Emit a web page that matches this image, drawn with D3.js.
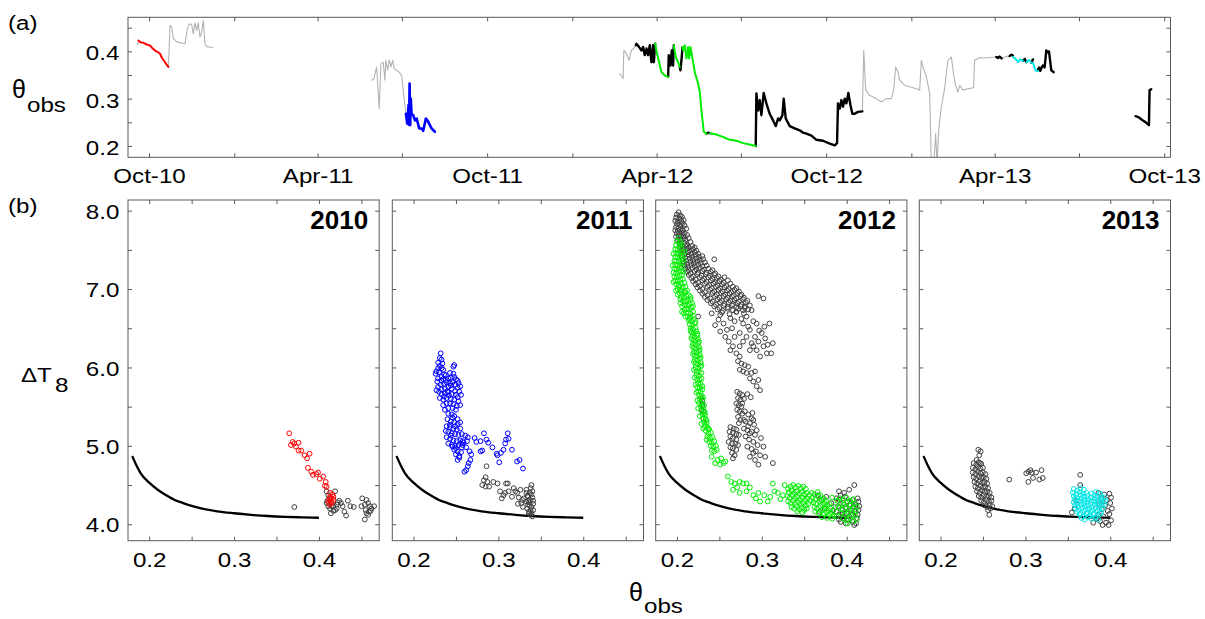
<!DOCTYPE html>
<html>
<head>
<meta charset="utf-8">
<script src="https://cdn.jsdelivr.net/npm/d3@7"></script>
<style>
  body { margin: 0; background: #fff; }
  text { font-family: "Liberation Sans", Arial, Helvetica, sans-serif; fill: #000; }
</style>
</head>
<body>
<svg id="fig" width="1205" height="619"></svg>
<script>
// ---------------------------------------------------------------
// (a) soil moisture record: [day since 1 Oct 2010, theta_obs]
// ---------------------------------------------------------------
const START = new Date(2010, 9, 1);
const timeDomain = [new Date(2010, 8, 8, 7), new Date(2013, 9, 7, 19)];

const gray2010a = [[-12.6,0.414],[-11.5,0.421]];
const red2010 = [[-11.5,0.423],[-9,0.419],[-6,0.418],[-3,0.415],[1.1,0.412],[4,0.406],[7,0.401],[10,0.398],[11.9,0.395],[14,0.386],[17.3,0.377],[19,0.372],[20.9,0.367]];
const gray2010b = [[20.9,0.367],[22.7,0.455],[24.5,0.451],[26.3,0.427],[29.9,0.420],[34,0.418],[38.8,0.416],[41.4,0.448],[43.5,0.458],[46,0.457],[47.8,0.437],[49.6,0.460],[51.4,0.444],[53.2,0.460],[55,0.430],[56.8,0.441],[58.6,0.465],[60.4,0.416],[62.2,0.410],[68.7,0.408]];

const gray2011 = [[240.3,0.339],[242.8,0.342],[245.7,0.367],[248.5,0.279],[250.3,0.374],[252.8,0.377],[254.7,0.339],[255.7,0.381],[257.6,0.360],[259.3,0.382],[261.2,0.367],[263,0.381],[264.7,0.363],[267.3,0.360],[270.1,0.356],[272.7,0.349],[275.2,0.303],[277.3,0.268]];
const blue2011 = [[277.3,0.268],[278.8,0.247],[279.6,0.270],[280.2,0.287],[280.8,0.245],[281.3,0.332],[282,0.244],[282.6,0.300],[283.4,0.268],[285.2,0.265],[287.1,0.254],[288.9,0.258],[291.7,0.237],[294.3,0.237],[296,0.232],[298.9,0.258],[301.4,0.251],[305,0.237],[308.6,0.230]];

const gray2012a = [[508.3,0.353],[511.8,0.342],[512.6,0.402],[515.4,0.395],[518.3,0.381],[520.8,0.402],[523.4,0.406],[525.5,0.413]];
const black2012a = [[525.5,0.413],[526.2,0.416],[529.1,0.409],[531.6,0.402],[533.4,0.409],[535.2,0.392],[537.1,0.406],[538.8,0.392],[540.6,0.413],[542.4,0.377],[544.2,0.413],[545,0.377],[546.4,0.416]];
const green2012a = [[546.4,0.416],[548.5,0.395],[550.7,0.377],[553.2,0.356],[556.8,0.349],[560.4,0.346]];
const black2012b = [[560.4,0.346],[561.1,0.392],[562.9,0.370],[564.4,0.402],[565.8,0.370],[566.5,0.413]];
const green2012b = [[566.5,0.413],[568.7,0.388],[571.2,0.377],[573,0.367]];
const black2012c = [[573,0.367],[573.7,0.360],[575.2,0.390],[575.9,0.409]];
const green2012c = [[575.9,0.409],[576.6,0.402],[578.4,0.413],[580.2,0.385],[582,0.409],[583.1,0.385],[584.5,0.409],[586.7,0.385],[589.2,0.356],[592.8,0.332],[594.6,0.314],[596.4,0.275],[598.9,0.230],[601.8,0.226]];
const black2012d = [[601.8,0.226],[603.6,0.228],[605.4,0.227]];
const green2012d = [[605.4,0.227],[612.6,0.224],[619.8,0.219],[627,0.213],[634.2,0.211],[641.3,0.206],[648.5,0.203],[655,0.200]];
const black2012e = [[655,0.200],[655.7,0.311],[657.5,0.275],[659.3,0.297],[661.1,0.265],[663.6,0.312],[666.5,0.290],[670.1,0.268],[673.7,0.254],[676.6,0.242],[679.1,0.258],[680.9,0.254],[683.8,0.265],[685.2,0.300],[687.4,0.258],[691.7,0.242],[697.1,0.237],[702.5,0.233],[706.1,0.228],[709.7,0.226],[715.1,0.222],[720.5,0.213],[727.6,0.211],[734.9,0.205],[740.3,0.201],[742.8,0.206],[743.8,0.290],[745.7,0.279],[747.5,0.297],[749.2,0.283],[751.1,0.300],[752.9,0.290],[755,0.312],[757.2,0.287],[759.3,0.268],[761.8,0.268],[765.4,0.272],[770.1,0.273]];
const gray2012b = [[770.1,0.273],[771.6,0.402],[773.7,0.318],[778,0.307],[785.2,0.300],[790.6,0.293],[796,0.300],[801.4,0.300],[803.9,0.318],[806.1,0.367],[808.6,0.356],[810.4,0.339],[815.8,0.328],[821.2,0.325],[828.4,0.321],[832,0.318],[833.8,0.381],[835.6,0.367],[839.2,0.346],[842.8,0.311],[844.6,0.160],[847.1,0.160],[849.3,0.226],[850.7,0.160],[852.8,0.240],[855.4,0.282],[858.9,0.321],[862.5,0.381],[866.2,0.388],[868.7,0.349],[870.8,0.328],[873.3,0.314],[875.2,0.328],[878.7,0.318],[884.1,0.321],[890.2,0.323],[891.3,0.381],[896.7,0.387],[902.1,0.386],[907.5,0.387],[914.7,0.388]];

const black2013a = [[914.7,0.388],[916.5,0.386],[918.3,0.389],[920.5,0.385]];
const gray2013 = [[920.5,0.385],[925,0.389],[929.1,0.390]];
const black2013b = [[929.1,0.390],[931,0.393],[932.7,0.391]];
const cyan2013a = [[932.7,0.388],[935,0.385],[938.1,0.377],[940.5,0.383],[943.5,0.380]];
const black2013c = [[943.5,0.380],[945.5,0.384],[947.1,0.377]];
const cyan2013b = [[947.1,0.377],[949.8,0.382],[952.5,0.376]];
const black2013d = [[952.5,0.376],[954.3,0.383]];
const cyan2013c = [[954.3,0.375],[956,0.366],[957.1,0.360],[959.7,0.358]];
const black2013e = [[959.7,0.362],[961,0.366],[962.2,0.359],[964,0.367],[965.1,0.370],[966.9,0.366],[968.7,0.402],[970.2,0.398],[971.6,0.400],[974.1,0.360],[976.6,0.356]];
const black2013f = [[1065.1,0.263],[1068,0.261],[1073,0.254],[1076,0.250],[1079.5,0.244],[1080.2,0.318],[1082,0.320]];

// ---------------------------------------------------------------
// (b) Delta T8 against theta_obs: [theta_obs, Delta T8]
// ---------------------------------------------------------------
const refCurve = [[0.18,4.87],[0.185,4.75],[0.19,4.65],[0.20,4.53],[0.21,4.44],[0.22,4.37],[0.23,4.31],[0.24,4.27],[0.25,4.235],[0.26,4.205],[0.28,4.165],[0.30,4.14],[0.32,4.12],[0.34,4.105],[0.36,4.095],[0.38,4.088],[0.40,4.083]];

const pts2010Other = [[0.371,4.22],[0.409,4.42],[0.411,4.37],[0.419,4.42],[0.415,4.23],[0.413,4.20],[0.411,4.23],[0.417,4.23],[0.421,4.25],[0.422,4.28],[0.424,4.30],[0.419,4.18],[0.414,4.14],[0.417,4.17],[0.428,4.23],[0.430,4.16],[0.432,4.11],[0.434,4.30],[0.437,4.23],[0.421,4.20],[0.413,4.33],[0.409,4.27],[0.451,4.33],[0.454,4.25],[0.456,4.31],[0.458,4.27],[0.460,4.23],[0.462,4.20],[0.459,4.16],[0.456,4.14],[0.454,4.06],[0.458,4.12],[0.450,4.23],[0.465,4.23],[0.455,4.18],[0.461,4.17],[0.410,4.30],[0.426,4.27],[0.441,4.22]];
const pts2010 = [[0.365,5.16],[0.367,5.01],[0.369,5.05],[0.371,5.03],[0.373,4.99],[0.376,5.04],[0.376,4.94],[0.379,4.94],[0.383,4.88],[0.386,4.84],[0.389,4.90],[0.387,4.72],[0.391,4.67],[0.393,4.63],[0.397,4.64],[0.399,4.66],[0.401,4.58],[0.405,4.61],[0.408,4.54],[0.407,4.49],[0.409,4.48],[0.413,4.35],[0.414,4.29],[0.415,4.33],[0.417,4.31],[0.415,4.27],[0.413,4.40],[0.412,4.31],[0.417,4.35],[0.413,4.25],[0.411,4.28],[0.416,4.38]];

const pts2011Other = [[0.286,4.74],[0.285,4.60],[0.283,4.56],[0.281,4.50],[0.287,4.54],[0.285,4.48],[0.289,4.48],[0.294,4.54],[0.299,4.52],[0.309,4.52],[0.311,4.52],[0.302,4.42],[0.306,4.37],[0.304,4.33],[0.308,4.40],[0.312,4.42],[0.318,4.46],[0.320,4.42],[0.322,4.40],[0.316,4.35],[0.324,4.34],[0.326,4.44],[0.328,4.31],[0.330,4.33],[0.333,4.29],[0.333,4.44],[0.335,4.36],[0.337,4.31],[0.339,4.50],[0.340,4.42],[0.339,4.22],[0.338,4.18],[0.336,4.14],[0.339,4.14],[0.341,4.26],[0.335,4.25],[0.337,4.40],[0.334,4.20],[0.340,4.34],[0.341,4.18],[0.336,4.16],[0.329,4.22],[0.338,4.46],[0.335,4.30],[0.339,4.38],[0.337,4.24],[0.340,4.10],[0.336,4.28],[0.334,4.36],[0.341,4.30],[0.338,4.12],[0.333,4.40],[0.327,4.27],[0.323,4.26]];
const pts2011 = [
  [0.232,6.18],[0.231,6.12],[0.233,6.10],[0.229,6.06],[0.234,6.05],[0.231,6.02],[0.229,5.99],[0.233,5.99],[0.235,5.97],[0.227,5.95],[0.230,5.94],[0.236,5.91],[0.233,5.88],[0.229,5.86],[0.235,5.85],[0.238,5.84],[0.241,5.86],[0.244,5.87],[0.248,5.88],[0.250,5.85],[0.253,5.80],[0.255,5.76],[0.252,5.74],[0.249,5.78],[0.246,5.81],[0.243,5.80],[0.239,5.81],[0.236,5.79],[0.232,5.78],[0.229,5.75],[0.233,5.72],[0.237,5.73],[0.241,5.75],[0.245,5.73],[0.249,5.70],[0.254,5.69],[0.256,5.65],[0.252,5.62],[0.250,5.65],[0.245,5.66],[0.241,5.68],[0.237,5.67],[0.233,5.66],[0.230,5.69],[0.231,5.61],[0.235,5.59],[0.239,5.61],[0.244,5.60],[0.248,5.59],[0.253,5.57],[0.255,5.52],[0.251,5.51],[0.247,5.53],[0.243,5.54],[0.239,5.54],[0.235,5.52],[0.237,5.46],[0.241,5.48],[0.246,5.48],[0.250,5.46],[0.248,6.03],[0.247,6.01],[0.226,5.92],[0.228,5.82],[0.243,5.93],[0.247,5.92],[0.240,5.70],[0.236,5.63],[0.242,5.64],[0.233,5.83],[0.238,5.90],[0.252,5.83],[0.244,5.77],[0.227,5.71],
  [0.241,5.41],[0.245,5.40],[0.248,5.38],[0.252,5.34],[0.240,5.34],[0.244,5.31],[0.248,5.30],[0.252,5.28],[0.255,5.30],[0.239,5.25],[0.243,5.24],[0.247,5.22],[0.251,5.21],[0.255,5.22],[0.241,5.18],[0.245,5.16],[0.249,5.15],[0.253,5.14],[0.257,5.15],[0.261,5.13],[0.264,5.11],[0.239,5.11],[0.243,5.09],[0.247,5.07],[0.251,5.06],[0.255,5.07],[0.259,5.04],[0.241,5.03],[0.245,5.01],[0.249,5.00],[0.253,5.01],[0.257,4.98],[0.248,4.95],[0.252,4.93],[0.256,4.92],[0.250,4.89],[0.254,4.87],[0.252,4.82],[0.266,4.93],[0.268,4.89],[0.267,4.82],[0.265,4.78],[0.264,4.74],[0.262,4.69],[0.260,4.67],[0.250,4.97],[0.258,5.01],[0.262,4.98],[0.243,5.27],[0.246,5.36],[0.254,4.85],[0.244,5.13],[0.249,5.25],[0.238,5.19],[0.246,4.99],
  [0.272,5.10],[0.274,5.05],[0.279,5.06],[0.283,5.16],[0.286,5.08],[0.288,5.04],[0.293,4.98],[0.299,4.88],[0.301,4.79],[0.303,4.91],[0.306,4.95],[0.309,5.08],[0.311,5.16],[0.312,5.09],[0.316,4.95],[0.322,4.80],[0.325,4.82],[0.329,4.71],[0.279,4.93],[0.281,4.94],[0.308,5.03],[0.298,4.90],[0.263,5.06],[0.258,5.06],[0.256,5.03]
];

const pts2012Other = [
  [0.202,7.98],[0.200,7.95],[0.204,7.94],[0.199,7.91],[0.203,7.90],[0.206,7.92],[0.198,7.87],[0.201,7.86],[0.205,7.87],[0.208,7.88],[0.200,7.83],[0.203,7.82],[0.207,7.84],[0.199,7.79],[0.202,7.78],[0.205,7.80],[0.209,7.81],[0.198,7.75],[0.201,7.74],[0.204,7.76],[0.207,7.75],[0.211,7.77],[0.200,7.71],[0.203,7.70],[0.206,7.72],[0.209,7.71],[0.199,7.67],[0.202,7.66],[0.205,7.68],[0.208,7.67],[0.212,7.69],[0.201,7.63],[0.204,7.62],[0.207,7.64],[0.210,7.63],[0.214,7.65],
  [0.203,7.58],[0.206,7.56],[0.209,7.59],[0.212,7.57],[0.216,7.60],[0.204,7.54],[0.207,7.52],[0.211,7.55],[0.214,7.53],[0.218,7.55],[0.221,7.53],[0.205,7.50],[0.208,7.48],[0.212,7.51],[0.215,7.49],[0.219,7.51],[0.223,7.49],[0.205,7.46],[0.209,7.44],[0.213,7.47],[0.217,7.45],[0.221,7.47],[0.225,7.45],[0.206,7.42],[0.210,7.40],[0.214,7.43],[0.218,7.41],[0.222,7.43],[0.226,7.41],[0.230,7.42],[0.207,7.38],[0.211,7.36],[0.215,7.39],[0.219,7.37],[0.223,7.39],[0.227,7.37],[0.231,7.38],[0.244,7.38],
  [0.208,7.34],[0.212,7.32],[0.216,7.35],[0.220,7.33],[0.224,7.35],[0.228,7.33],[0.233,7.34],[0.209,7.30],[0.213,7.28],[0.217,7.31],[0.221,7.29],[0.225,7.31],[0.230,7.29],[0.235,7.30],[0.210,7.26],[0.214,7.24],[0.218,7.27],[0.223,7.25],[0.227,7.27],[0.232,7.25],[0.237,7.26],[0.242,7.24],[0.212,7.22],[0.216,7.20],[0.221,7.23],[0.225,7.21],[0.230,7.23],[0.235,7.21],[0.240,7.22],[0.245,7.20],[0.214,7.18],[0.219,7.16],[0.224,7.19],[0.229,7.17],[0.234,7.19],[0.239,7.17],[0.244,7.18],[0.249,7.16],
  [0.217,7.14],[0.222,7.12],[0.227,7.15],[0.232,7.13],[0.237,7.15],[0.242,7.13],[0.247,7.14],[0.252,7.12],[0.256,7.15],[0.219,7.10],[0.225,7.08],[0.230,7.11],[0.235,7.09],[0.240,7.11],[0.245,7.09],[0.250,7.10],[0.255,7.08],[0.260,7.11],[0.222,7.06],[0.227,7.04],[0.233,7.07],[0.238,7.05],[0.243,7.07],[0.248,7.05],[0.253,7.06],[0.258,7.04],[0.263,7.07],
  [0.224,7.02],[0.230,7.00],[0.236,7.03],[0.241,7.01],[0.246,7.03],[0.251,7.01],[0.256,7.02],[0.261,7.00],[0.266,7.03],[0.270,7.01],[0.227,6.98],[0.233,6.96],[0.239,6.99],[0.244,6.97],[0.249,6.99],[0.254,6.97],[0.259,6.98],[0.264,6.96],[0.268,6.99],[0.273,6.97],[0.230,6.94],[0.236,6.92],[0.242,6.95],[0.247,6.93],[0.252,6.95],[0.257,6.93],[0.262,6.94],[0.267,6.92],[0.271,6.95],[0.276,6.93],
  [0.233,6.90],[0.239,6.88],[0.245,6.91],[0.250,6.89],[0.255,6.91],[0.260,6.89],[0.265,6.90],[0.270,6.88],[0.275,6.91],[0.279,6.89],[0.236,6.86],[0.242,6.84],[0.248,6.87],[0.253,6.85],[0.258,6.87],[0.263,6.85],[0.268,6.86],[0.273,6.84],[0.278,6.87],[0.283,6.85],[0.240,6.82],[0.246,6.80],[0.251,6.83],[0.256,6.81],[0.261,6.83],[0.266,6.81],[0.271,6.82],[0.276,6.80],[0.281,6.83],
  [0.244,6.78],[0.250,6.76],[0.255,6.79],[0.260,6.77],[0.265,6.79],[0.270,6.77],[0.275,6.78],[0.280,6.76],[0.286,6.79],[0.248,6.74],[0.254,6.72],[0.260,6.75],[0.266,6.73],[0.272,6.75],[0.278,6.73],[0.284,6.74],[0.253,6.70],[0.262,6.68],[0.270,6.71],[0.279,6.69],[0.296,6.91],[0.302,6.88],[0.225,6.65],
  [0.241,6.69],[0.249,6.61],[0.255,6.56],[0.263,6.63],[0.268,6.59],[0.251,6.46],[0.257,6.39],[0.261,6.33],[0.266,6.27],[0.263,6.22],[0.270,6.18],[0.274,6.27],[0.278,6.56],[0.282,6.65],[0.286,6.48],[0.288,6.73],[0.292,6.39],[0.294,6.56],[0.296,6.33],[0.302,6.27],[0.307,6.29],[0.309,6.56],[0.311,6.18],[0.298,6.14],[0.286,6.22],[0.274,6.14],[0.282,6.39],[0.290,6.27],[0.300,6.44],[0.304,6.37],[0.274,6.44],[0.268,6.39],[0.259,6.48],[0.278,6.33],[0.306,6.18],[0.294,6.22],[0.245,6.54],[0.251,6.67],[0.270,6.71],[0.280,6.78],[0.290,6.59],[0.284,6.52],[0.297,6.47],[0.303,6.52],[0.313,6.31],[0.288,6.31],[0.276,6.62],[0.265,6.50],
  [0.272,6.08],[0.276,6.05],[0.280,6.03],[0.284,6.01],[0.274,5.97],[0.278,5.95],[0.282,5.93],[0.288,5.93],[0.292,5.95],[0.286,5.86],[0.290,5.82],[0.296,5.84],[0.294,5.76],[0.298,5.71],
  [0.271,5.69],[0.274,5.67],[0.277,5.65],[0.272,5.61],[0.275,5.59],[0.273,5.52],[0.276,5.50],[0.271,5.46],[0.274,5.44],[0.277,5.41],[0.272,5.37],[0.275,5.33],[0.273,5.29],[0.277,5.54],[0.270,5.54],[0.279,5.60],[0.283,5.66],[0.287,5.62],
  [0.280,5.44],[0.284,5.40],[0.288,5.35],[0.281,5.31],[0.286,5.29],[0.291,5.27],[0.279,5.22],[0.283,5.20],[0.288,5.18],[0.292,5.14],[0.281,5.12],[0.285,5.08],[0.290,5.05],[0.295,5.01],[0.283,4.99],[0.288,4.96],[0.293,4.93],[0.298,4.88],[0.286,4.86],[0.292,4.82],[0.302,4.99],[0.304,4.86],[0.296,4.76],[0.313,4.78],[0.290,5.33],[0.294,5.20],[0.279,5.33],[0.299,5.10],[0.286,5.16],[0.290,4.91],[0.284,5.25],[0.289,5.42],
  [0.263,5.24],[0.267,5.22],[0.270,5.21],[0.262,5.18],[0.266,5.17],[0.270,5.15],[0.273,5.14],[0.263,5.12],[0.266,5.10],[0.270,5.08],[0.261,5.05],[0.265,5.03],[0.269,5.03],[0.272,5.01],[0.263,4.98],[0.266,4.97],[0.270,4.95],[0.265,4.91],[0.268,4.88],[0.266,4.84],
  [0.229,5.61],[0.230,5.52],[0.231,5.44],[0.231,5.35],[0.229,5.46],[0.230,5.57],
  [0.366,4.37],[0.370,4.31],[0.376,4.35],[0.382,4.27],[0.374,4.20],[0.384,4.18],[0.388,4.33],[0.368,4.16],[0.391,4.42],[0.397,4.40],[0.403,4.44],[0.409,4.50],[0.413,4.33],[0.391,4.31],[0.396,4.27],[0.401,4.29],[0.407,4.31],[0.411,4.25],[0.390,4.23],[0.395,4.18],[0.399,4.20],[0.405,4.18],[0.410,4.16],[0.413,4.12],[0.391,4.12],[0.397,4.08],[0.403,4.10],[0.407,4.03],[0.411,4.01],[0.409,3.99],[0.399,4.01],[0.391,4.06],[0.415,4.23],[0.388,4.16],[0.393,4.37],[0.398,4.35],[0.404,4.25],[0.408,4.23],[0.414,4.29],[0.395,4.14],[0.400,4.14],[0.406,4.12],[0.412,4.08],[0.393,4.03],[0.402,4.06],[0.414,4.18]
];
const pts2012 = [
  [0.202,7.65],[0.200,7.61],[0.204,7.60],[0.199,7.56],[0.203,7.55],[0.206,7.57],[0.198,7.51],[0.201,7.50],[0.205,7.52],[0.199,7.46],[0.202,7.45],[0.206,7.47],[0.198,7.41],[0.201,7.40],[0.204,7.42],[0.207,7.43],[0.199,7.36],[0.202,7.35],[0.205,7.37],[0.198,7.31],[0.201,7.30],[0.204,7.32],[0.207,7.33],[0.197,7.26],[0.200,7.25],[0.203,7.27],[0.206,7.28],[0.196,7.21],[0.199,7.20],[0.202,7.22],[0.205,7.23],[0.197,7.16],[0.200,7.15],[0.203,7.17],[0.206,7.18],[0.198,7.11],[0.201,7.10],[0.204,7.12],[0.207,7.13],[0.199,7.06],[0.202,7.05],[0.205,7.07],[0.209,7.08],[0.196,7.09],
  [0.196,7.45],[0.208,7.38],[0.197,7.36],[0.208,7.22],[0.209,7.48],[0.195,7.30],[0.203,7.03],[0.199,6.98],[0.210,6.96],[0.201,6.93],[0.204,6.87],[0.216,6.90],[0.206,6.78],[0.219,6.78],[0.209,6.73],
  [0.201,7.00],[0.204,6.99],[0.207,7.02],[0.210,7.03],[0.203,6.95],[0.206,6.94],[0.209,6.96],[0.212,6.98],[0.205,6.90],[0.208,6.89],[0.211,6.91],[0.214,6.92],[0.207,6.85],[0.210,6.84],[0.213,6.86],[0.216,6.87],[0.204,6.82],[0.209,6.80],[0.212,6.79],[0.215,6.81],[0.218,6.82],[0.211,6.75],[0.214,6.74],[0.217,6.76],[0.206,6.71],[0.213,6.70],[0.216,6.69],[0.219,6.71],[0.208,6.69],[0.210,6.65],
  [0.213,6.65],[0.216,6.64],[0.219,6.66],[0.214,6.60],[0.217,6.59],[0.220,6.61],[0.215,6.55],[0.218,6.54],[0.221,6.56],[0.216,6.50],[0.219,6.49],[0.222,6.51],[0.217,6.45],[0.220,6.44],[0.223,6.46],[0.218,6.40],[0.221,6.39],[0.224,6.41],[0.219,6.35],[0.222,6.34],[0.225,6.36],
  [0.215,6.62],[0.222,6.58],[0.216,6.47],[0.224,6.43],[0.217,6.37],[0.226,6.33],[0.218,6.27],[0.227,6.23],[0.219,6.17],[0.228,6.13],[0.220,6.07],[0.229,6.03],[0.220,5.97],[0.229,5.93],[0.221,5.87],[0.229,5.86],[0.222,5.78],[0.230,5.72],[0.223,5.68],[0.231,5.62],[0.224,5.58],[0.232,5.52],[0.225,5.48],[0.233,5.42],[0.227,5.38],[0.235,5.32],[0.229,5.28],[0.237,5.22],[0.231,5.22],[0.238,5.21],
  [0.219,6.30],[0.222,6.29],[0.225,6.31],[0.220,6.25],[0.223,6.24],[0.226,6.26],[0.220,6.20],[0.223,6.19],[0.226,6.21],[0.221,6.15],[0.224,6.14],[0.227,6.16],[0.221,6.10],[0.224,6.09],[0.227,6.11],[0.222,6.05],[0.225,6.04],[0.228,6.06],[0.222,6.00],[0.225,5.99],[0.228,6.01],[0.223,5.95],[0.226,5.94],[0.223,5.90],[0.226,5.89],
  [0.224,5.85],[0.227,5.84],[0.225,5.80],[0.228,5.79],[0.224,5.75],[0.227,5.74],[0.230,5.76],[0.225,5.70],[0.228,5.69],[0.226,5.65],[0.229,5.64],[0.227,5.60],[0.230,5.59],[0.226,5.55],[0.229,5.54],[0.228,5.50],[0.231,5.49],[0.229,5.45],[0.232,5.44],[0.230,5.40],[0.233,5.39],[0.231,5.35],[0.234,5.34],[0.232,5.30],[0.235,5.29],[0.233,5.25],[0.236,5.24],
  [0.234,5.19],[0.237,5.16],[0.240,5.17],[0.236,5.12],[0.239,5.10],[0.242,5.11],[0.238,5.05],[0.241,5.04],[0.244,5.06],[0.240,5.00],[0.243,4.99],[0.246,5.00],[0.241,4.94],[0.244,4.93],[0.247,4.95],[0.235,5.08],
  [0.241,4.86],[0.245,4.78],[0.251,4.76],[0.255,4.78],[0.257,4.80],[0.248,4.82],[0.252,4.84],[0.260,4.61],[0.264,4.54],[0.268,4.52],[0.274,4.54],[0.278,4.52],[0.282,4.52],[0.266,4.44],[0.274,4.40],[0.282,4.42],[0.290,4.37],[0.296,4.40],[0.298,4.29],[0.303,4.37],[0.307,4.29],[0.313,4.52],[0.315,4.42],[0.319,4.40],[0.325,4.37],[0.327,4.50],[0.271,4.47],[0.286,4.47],[0.293,4.33],[0.310,4.35],[0.322,4.32],
  [0.331,4.45],[0.334,4.48],[0.337,4.50],[0.340,4.47],[0.343,4.49],[0.346,4.46],[0.349,4.48],[0.352,4.45],[0.332,4.41],[0.335,4.43],[0.338,4.40],[0.341,4.42],[0.344,4.39],[0.347,4.41],[0.350,4.38],[0.353,4.40],[0.356,4.37],[0.330,4.36],[0.333,4.34],[0.336,4.37],[0.339,4.33],[0.342,4.35],[0.345,4.32],[0.348,4.34],[0.351,4.31],[0.354,4.33],[0.357,4.30],[0.331,4.29],[0.334,4.27],[0.337,4.30],[0.340,4.26],[0.343,4.28],[0.346,4.25],[0.349,4.27],[0.352,4.24],[0.355,4.26],[0.335,4.22],[0.338,4.20],[0.341,4.23],[0.344,4.19],[0.347,4.21],[0.350,4.18],[0.353,4.20],[0.342,4.16],[0.348,4.15],
  [0.359,4.40],[0.362,4.38],[0.366,4.41],[0.369,4.37],[0.360,4.34],[0.363,4.32],[0.367,4.35],[0.370,4.31],[0.373,4.33],[0.376,4.30],[0.361,4.28],[0.364,4.26],[0.368,4.29],[0.371,4.25],[0.374,4.27],[0.377,4.24],[0.380,4.26],[0.362,4.22],[0.365,4.20],[0.369,4.23],[0.372,4.19],[0.375,4.21],[0.378,4.18],[0.381,4.20],[0.384,4.17],[0.363,4.16],[0.367,4.14],[0.370,4.17],[0.373,4.13],[0.376,4.15],[0.379,4.12],[0.382,4.14],[0.385,4.11],[0.371,4.09],[0.377,4.08],[0.383,4.07],[0.388,4.10],[0.387,4.22],[0.389,4.30],[0.383,4.34],
  [0.392,4.33],[0.396,4.31],[0.400,4.34],[0.404,4.30],[0.408,4.32],[0.393,4.27],[0.397,4.25],[0.401,4.28],[0.405,4.24],[0.409,4.26],[0.412,4.23],[0.391,4.21],[0.395,4.19],[0.399,4.22],[0.403,4.18],[0.407,4.20],[0.411,4.17],[0.394,4.14],[0.398,4.12],[0.402,4.15],[0.406,4.11],[0.410,4.13],[0.396,4.07],[0.400,4.05],[0.404,4.08],[0.408,4.04],[0.412,4.06],[0.401,4.01]
];

const pts2013Other = [
  [0.2445,4.95],[0.2472,4.93],[0.2457,4.88],[0.2425,4.82],[0.2465,4.78],
  [0.239,4.78],[0.242,4.76],[0.245,4.79],[0.248,4.77],[0.238,4.72],[0.241,4.70],[0.244,4.73],[0.247,4.71],[0.250,4.72],[0.238,4.66],[0.241,4.64],[0.244,4.67],[0.247,4.65],[0.250,4.66],[0.253,4.64],
  [0.239,4.60],[0.242,4.58],[0.245,4.61],[0.248,4.59],[0.251,4.60],[0.254,4.58],[0.240,4.54],[0.243,4.52],[0.246,4.55],[0.249,4.53],[0.252,4.54],[0.255,4.52],[0.241,4.48],[0.244,4.46],[0.247,4.49],[0.250,4.47],[0.253,4.48],[0.256,4.46],
  [0.243,4.42],[0.246,4.40],[0.249,4.43],[0.252,4.41],[0.255,4.42],[0.258,4.40],[0.245,4.36],[0.248,4.34],[0.251,4.37],[0.254,4.35],[0.257,4.36],[0.260,4.34],[0.248,4.30],[0.251,4.28],[0.254,4.31],[0.257,4.29],[0.260,4.30],[0.252,4.24],[0.255,4.22],[0.258,4.25],[0.261,4.23],[0.256,4.18],[0.259,4.20],[0.2575,4.12],
  [0.281,4.57],[0.301,4.65],[0.3035,4.67],[0.306,4.69],[0.3075,4.66],[0.3126,4.66],[0.319,4.69],[0.3035,4.54],[0.309,4.59],[0.3165,4.57],[0.3205,4.59],
  [0.3646,4.63],[0.3646,4.50],[0.3547,4.15],[0.386,4.40],[0.393,4.38],[0.399,4.39],[0.389,4.33],[0.396,4.31],[0.401,4.34],[0.387,4.26],[0.394,4.24],[0.400,4.27],[0.390,4.19],[0.397,4.17],[0.402,4.20],[0.386,4.12],[0.392,4.10],[0.399,4.13],[0.388,4.04],[0.395,4.02],[0.401,4.05],[0.391,3.99],[0.398,3.99],[0.384,4.07],[0.380,4.02],[0.360,4.30],[0.358,4.20]
];
const pts2013 = [
  [0.357,4.45],[0.361,4.43],[0.365,4.46],[0.369,4.44],
  [0.356,4.40],[0.360,4.38],[0.364,4.41],[0.368,4.39],[0.372,4.40],[0.378,4.39],[0.383,4.41],[0.388,4.39],
  [0.357,4.36],[0.361,4.34],[0.365,4.37],[0.369,4.35],[0.373,4.36],[0.377,4.34],[0.381,4.37],[0.385,4.35],[0.389,4.36],[0.393,4.34],
  [0.358,4.32],[0.362,4.30],[0.366,4.33],[0.370,4.31],[0.374,4.32],[0.378,4.30],[0.382,4.33],[0.386,4.31],[0.390,4.32],[0.394,4.30],
  [0.357,4.28],[0.361,4.26],[0.365,4.29],[0.369,4.27],[0.373,4.28],[0.377,4.26],[0.381,4.29],[0.385,4.27],[0.389,4.28],[0.393,4.26],
  [0.358,4.24],[0.362,4.22],[0.366,4.25],[0.370,4.23],[0.374,4.24],[0.378,4.22],[0.382,4.25],[0.386,4.23],[0.390,4.24],
  [0.359,4.20],[0.363,4.18],[0.367,4.21],[0.371,4.19],[0.375,4.20],[0.379,4.18],[0.383,4.21],[0.387,4.19],[0.391,4.20],
  [0.361,4.16],[0.365,4.14],[0.369,4.17],[0.373,4.15],[0.377,4.16],[0.381,4.14],[0.385,4.17],[0.389,4.15],
  [0.364,4.12],[0.368,4.10],[0.372,4.13],[0.376,4.11],[0.380,4.12],[0.384,4.10],[0.388,4.13],
  [0.366,4.08],[0.370,4.06],[0.374,4.09],[0.378,4.07],[0.382,4.08],[0.386,4.06]
];

// tick values and labels
const thetaTicks = [0.2, 0.25, 0.3, 0.35, 0.4, 0.45];
const dTTicks = [4, 4.5, 5, 5.5, 6, 6.5, 7, 7.5, 8];
const years = ["2010", "2011", "2012", "2013"];

// ---------------------------------------------------------------
// drawing
// ---------------------------------------------------------------
const COLORS = { gray: "#b2b2b2", black: "#000", red: "#ff0000", blue: "#0000ff", green: "#00ee00", cyan: "#00e8e8" };
const WIDTHS = { gray: 1.1, black: 2.4, red: 2, blue: 2.6, green: 2, cyan: 2 };
const FRAME = "#5a5a5a";
const OTHER = "#404040";
const SX = 1.15;       // horizontal stretch of the lettering
const FONT = 21;

const svg = d3.select("#fig");
svg.append("rect").attr("width", 1205).attr("height", 619).attr("fill", "#fff");

function txt(parent, x, y, s, o = {}) {
  return parent.append("text")
    .attr("transform", `translate(${x},${y}) scale(${o.sx ?? SX},1)`)
    .attr("font-size", o.size ?? FONT)
    .attr("text-anchor", o.anchor ?? "start")
    .attr("font-weight", o.weight ?? null)
    .text(s);
}
function styleAxis(g, dy) {
  g.select(".domain").remove();
  g.attr("font-family", null).attr("font-size", null);
  g.selectAll(".tick line").attr("stroke", FRAME);
  const t = g.selectAll(".tick text").attr("font-size", FONT).attr("fill", "#000")
    .attr("transform", `scale(${SX},1)`);
  if (dy) t.attr("dy", dy);
}
const tenthLabel = d => Math.abs(d * 10 - Math.round(d * 10)) < 1e-6 ? d.toFixed(1) : "";
const wholeLabel = d => Math.abs(d - Math.round(d)) < 1e-6 ? d.toFixed(1) : "";

// ---------- panel (a) ----------
const A = { x0: 128, x1: 1170.5, y0: 17.3, y1: 157.3 };
const xT = d3.scaleTime().domain(timeDomain).range([A.x0, A.x1]);
const yT = d3.scaleLinear().domain([0.176, 0.472]).range([A.y1, A.y0]);
const dayDate = d => new Date(START.getTime() + d * 864e5);

svg.append("clipPath").attr("id", "clipA").append("rect")
  .attr("x", A.x0).attr("y", A.y0).attr("width", A.x1 - A.x0).attr("height", A.y1 - A.y0);

const segments = [
  [gray2010a, "gray"], [red2010, "red"], [gray2010b, "gray"],
  [gray2011, "gray"], [blue2011, "blue"],
  [gray2012a, "gray"], [black2012a, "black"], [green2012a, "green"], [black2012b, "black"],
  [green2012b, "green"], [black2012c, "black"], [green2012c, "green"], [black2012d, "black"],
  [green2012d, "green"], [black2012e, "black"], [gray2012b, "gray"],
  [black2013a, "black"], [gray2013, "gray"], [black2013b, "black"], [cyan2013a, "cyan"],
  [black2013c, "black"], [cyan2013b, "cyan"], [black2013d, "black"], [cyan2013c, "cyan"],
  [black2013e, "black"], [black2013f, "black"]
];
const lineA = d3.line().x(d => xT(dayDate(d[0]))).y(d => yT(d[1]));
const gA = svg.append("g").attr("clip-path", "url(#clipA)");
// thin record first, coloured and black stretches above it
["gray", "black", "red", "blue", "green", "cyan"].forEach(kind => {
  segments.filter(s => s[1] === kind).forEach(([data]) => {
    gA.append("path").attr("d", lineA(data)).attr("fill", "none")
      .attr("stroke", COLORS[kind]).attr("stroke-width", WIDTHS[kind])
      .attr("stroke-linejoin", "round").attr("stroke-linecap", "round");
  });
});

const monthTicks = d3.timeMonth.every(3).range(timeDomain[0], timeDomain[1]);
const fmtMonth = d3.timeFormat("%b-%y");
svg.append("g").attr("transform", `translate(0,${A.y1})`)
  .call(d3.axisBottom(xT).tickValues(monthTicks).tickSize(-4).tickPadding(11)
    .tickFormat(d => (d.getMonth() === 3 || d.getMonth() === 9) ? fmtMonth(d) : ""))
  .call(g => styleAxis(g));
svg.append("g").attr("transform", `translate(0,${A.y0})`)
  .call(d3.axisTop(xT).tickValues(monthTicks).tickSize(-4).tickFormat(""))
  .call(g => styleAxis(g));
svg.append("g").attr("transform", `translate(${A.x0},0)`)
  .call(d3.axisLeft(yT).tickValues(thetaTicks).tickSize(-4).tickPadding(7.5).tickFormat(tenthLabel))
  .call(g => styleAxis(g, "0.4em"));
svg.append("g").attr("transform", `translate(${A.x1},0)`)
  .call(d3.axisRight(yT).tickValues(thetaTicks).tickSize(-4).tickFormat(""))
  .call(g => styleAxis(g));
svg.append("rect").attr("x", A.x0).attr("y", A.y0).attr("width", A.x1 - A.x0).attr("height", A.y1 - A.y0)
  .attr("fill", "none").attr("stroke", FRAME).attr("stroke-width", 1);

txt(svg, 8, 30, "(a)");
txt(svg, 12, 98, "\u03b8", { size: 25, sx: 1 });
txt(svg, 27, 112, "obs");

// ---------- panel (b) ----------
const B = { lefts: [128, 392.3, 655.7, 919.3], w: 251.2, y0: 200, y1: 540.7 };
const yB = d3.scaleLinear().domain([3.79, 8.136]).range([B.y1, B.y0]);
const panelPts = [
  { other: pts2010Other, own: pts2010, color: "#ff0000" },
  { other: pts2011Other, own: pts2011, color: "#0000ff" },
  { other: pts2012Other, own: pts2012, color: "#00ee00" },
  { other: pts2013Other, own: pts2013, color: "#00e6e6" }
];

B.lefts.forEach((x0, i) => {
  const x1 = x0 + B.w;
  const xB = d3.scaleLinear().domain([0.175, 0.471]).range([x0, x1]);
  const g = svg.append("g");
  const cid = "clipB" + i;
  svg.append("clipPath").attr("id", cid).append("rect")
    .attr("x", x0).attr("y", B.y0).attr("width", B.w).attr("height", B.y1 - B.y0);
  const inner = g.append("g").attr("clip-path", `url(#${cid})`);

  inner.append("path")
    .attr("d", d3.line().x(d => xB(d[0])).y(d => yB(d[1])).curve(d3.curveMonotoneX)(refCurve))
    .attr("fill", "none").attr("stroke", "#000").attr("stroke-width", 2.3);

  const P = panelPts[i];
  inner.append("g").selectAll("circle").data(P.other).join("circle")
    .attr("cx", d => xB(d[0])).attr("cy", d => yB(d[1])).attr("r", 2.4)
    .attr("fill", "none").attr("stroke", OTHER).attr("stroke-width", 1);
  inner.append("g").selectAll("circle").data(P.own).join("circle")
    .attr("cx", d => xB(d[0])).attr("cy", d => yB(d[1])).attr("r", 2.4)
    .attr("fill", "none").attr("stroke", P.color).attr("stroke-width", 1);

  g.append("g").attr("transform", `translate(0,${B.y1})`)
    .call(d3.axisBottom(xB).tickValues(thetaTicks).tickSize(-4).tickPadding(11).tickFormat(tenthLabel))
    .call(a => styleAxis(a));
  g.append("g").attr("transform", `translate(0,${B.y0})`)
    .call(d3.axisTop(xB).tickValues(thetaTicks).tickSize(-4).tickFormat(""))
    .call(a => styleAxis(a));
  g.append("g").attr("transform", `translate(${x0},0)`)
    .call(d3.axisLeft(yB).tickValues(dTTicks).tickSize(-4).tickPadding(7.5)
      .tickFormat(i === 0 ? wholeLabel : () => ""))
    .call(a => styleAxis(a, "0.36em"));
  g.append("g").attr("transform", `translate(${x1},0)`)
    .call(d3.axisRight(yB).tickValues(dTTicks).tickSize(-4).tickFormat(""))
    .call(a => styleAxis(a));
  g.append("rect").attr("x", x0).attr("y", B.y0).attr("width", B.w).attr("height", B.y1 - B.y0)
    .attr("fill", "none").attr("stroke", FRAME).attr("stroke-width", 1);

  txt(g, x1 - 11, 229, years[i], { size: 26, sx: 1, anchor: "end", weight: "bold" });
});

txt(svg, 8, 213, "(b)");
txt(svg, 21, 382, "\u0394T");
txt(svg, 55, 392, "8");
txt(svg, 629, 601, "\u03b8", { size: 25, sx: 1 });
txt(svg, 644, 613, "obs");
</script>
</body>
</html>
